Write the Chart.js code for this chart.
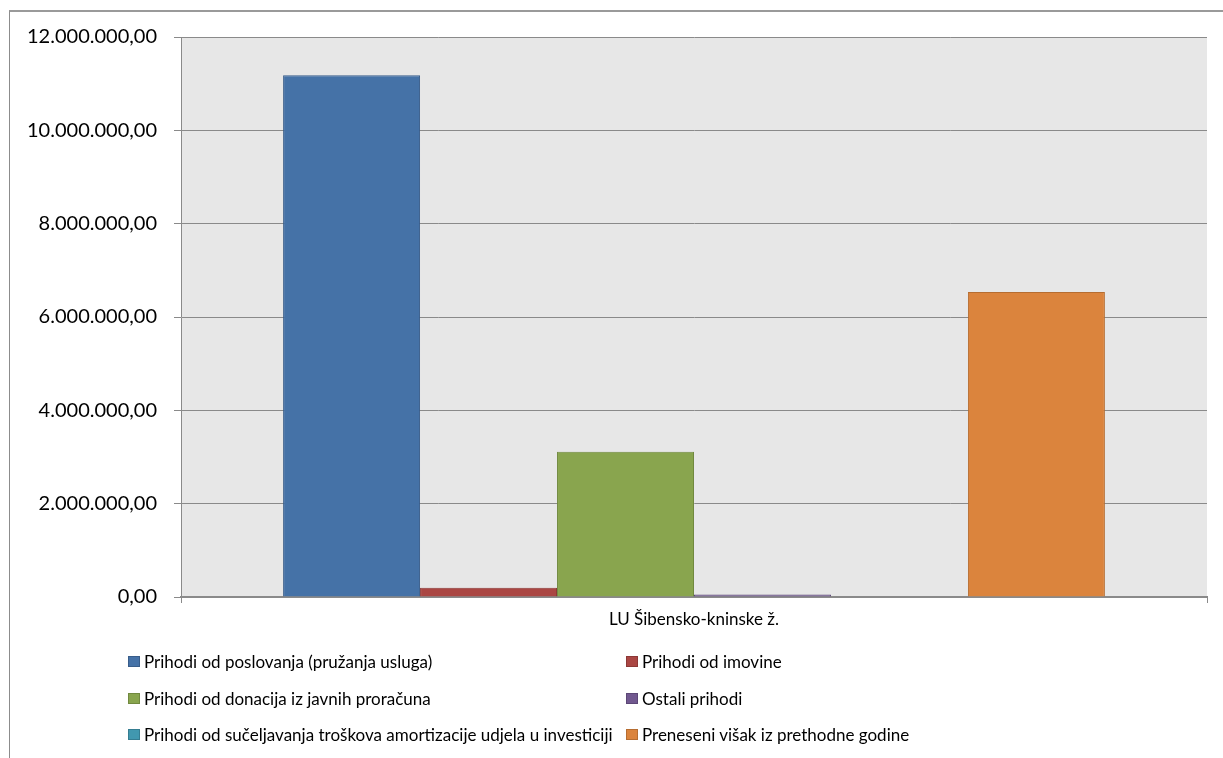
<!DOCTYPE html>
<html lang="hr">
  <head>
    <meta charset="UTF-8" />
    <script src="https://cdn.jsdelivr.net/npm/chart.js"></script>
    <title>Prihodi</title>
    <style>
      html, body { margin: 0; padding: 0; background: #fff; overflow: hidden; }
      #wrap { position: relative; width: 1223px; height: 758px; }
      #frame { position: absolute; left: 9px; top: 10px; width: 1300px; height: 800px;
        border-left: 1px solid #8c8c8c; border-top: 2px solid #9a9a9a; pointer-events: none; }
      #legend { position: absolute; left: 128px; top: 651px; display: grid;
        grid-template-columns: 498px 400px; row-gap: 15.5px;
        font-family: Lato, 'Open Sans', sans-serif; font-size: 17px; color: #000; }
      #legend div { display: flex; align-items: center; height: 21px; white-space: nowrap; }
      #legend span.box { display: inline-block; width: 10px; height: 9px; margin-right: 4px; border: 1px solid; }
    </style>
  </head>
  <body>
    <div id="wrap">
      <canvas id="chart" width="1223" height="758"></canvas>
      <div id="frame"></div>
      <div id="legend"></div>
    </div>

    <script>
      const categories = ['LU Šibensko-kninske ž.']
      const seriesNames = [
        'Prihodi od poslovanja (pružanja usluga)',
        'Prihodi od imovine',
        'Prihodi od donacija iz javnih proračuna',
        'Ostali prihodi',
        'Prihodi od sučeljavanja troškova amortizacije udjela u investiciji',
        'Preneseni višak iz prethodne godine',
      ]
      const seriesValues = [11180000, 200000, 3110000, 55000, 0, 6535000]

      const fills = ['#4572A7', '#AA4643', '#89A54E', '#71588F', '#4198AF', '#DB843D']
      const borders = ['#385D8A', '#8C3836', '#71893F', '#5C4776', '#357D91', '#B66D31']

      const fmt = (v) => {
        const [i, d] = Number(v).toFixed(2).split('.')
        return i.replace(/\B(?=(\d{3})+(?!\d))/g, '.') + ',' + d
      }

      const plotBg = {
        id: 'plotBg',
        beforeDraw(chart) {
          const { ctx, chartArea: a } = chart
          ctx.save()
          ctx.fillStyle = '#E7E7E7'
          ctx.fillRect(a.left, a.top, a.right - a.left, a.bottom - a.top)
          ctx.restore()
        },
      }

      const ctx = document.getElementById('chart').getContext('2d')
      const chart = new Chart(ctx, {
        type: 'bar',
        data: {
          labels: categories,
          datasets: seriesNames.map((name, i) => ({
            label: name,
            data: [seriesValues[i]],
            backgroundColor: fills[i],
            borderColor: borders[i],
            borderWidth: 1,
          })),
        },
        options: {
          responsive: false,
          animation: false,
          layout: { padding: { left: 0, right: 16, top: 37, bottom: 0 } },
          datasets: { bar: { categoryPercentage: 0.801, barPercentage: 1 } },
          plugins: { legend: { display: false }, tooltip: { enabled: false } },
          scales: {
            x: {
              afterFit: (s) => { s.height = 161 },
              grid: { drawOnChartArea: false, offset: true, tickLength: 6, color: '#8a8a8a' },
              border: { color: '#8a8a8a', width: 2 },
              ticks: { color: '#000', padding: 6, font: { family: 'Lato', size: 17 } },
            },
            y: {
              min: 0,
              max: 12000000,
              afterFit: (s) => { s.width = 181 },
              ticks: {
                stepSize: 2000000,
                padding: 17,
                color: '#000',
                font: { family: 'Lato', size: 20 },
                callback: (v) => fmt(v),
              },
              grid: { color: '#8a8a8a', tickLength: 7 },
              border: { color: '#8a8a8a', width: 1 },
            },
          },
        },
        plugins: [plotBg],
      })

      const legend = document.getElementById('legend')
      chart.data.datasets.forEach((ds) => {
        const item = document.createElement('div')
        item.innerHTML = `<span class="box" style="background:${ds.backgroundColor};border-color:${ds.borderColor}"></span>${ds.label}`
        legend.appendChild(item)
      })
    </script>
  </body>
</html>
